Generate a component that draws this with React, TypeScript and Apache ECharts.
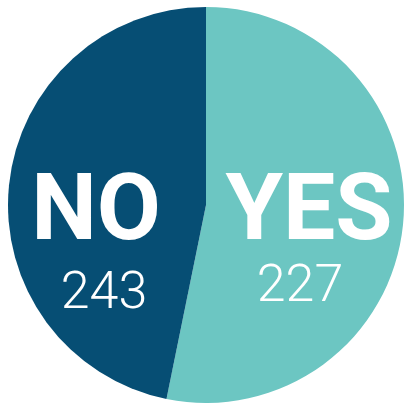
import React, { useEffect, useRef } from "react";
import * as echarts from "echarts";

const categories = ["YES", "NO"];
const counts = [227, 243];
// slice shares (percent of the circle)
const sliceShares = [53.2, 46.8];
const colors = ["#6cc6c2", "#064e74"];

export default function App() {
  const ref = useRef<HTMLDivElement>(null);
  useEffect(() => {
    if (!ref.current) return;
    const chart = echarts.init(ref.current, undefined, { renderer: "svg" });
    const labelPos = [
      { name: [309, 207], num: [300, 283] },
      { name: [96, 207], num: [104, 290] },
    ];
    const graphics: any[] = [];
    categories.forEach((c, i) => {
      graphics.push({
        type: "text",
        x: labelPos[i].name[0],
        y: labelPos[i].name[1],
        style: {
          text: c,
          fill: "#ffffff",
          font: "bold 93px Roboto",
          lineHeight: 70,
          textAlign: "center",
          textVerticalAlign: "middle",
        },
        z: 10,
      });
      graphics.push({
        type: "text",
        x: labelPos[i].num[0],
        y: labelPos[i].num[1],
        style: {
          text: String(counts[i]),
          fill: "#ffffff",
          font: "300 52px Roboto",
          lineHeight: 38,
          textAlign: "center",
          textVerticalAlign: "middle",
        },
        z: 10,
      });
    });
    chart.setOption({
      animation: false,
      series: [
        {
          type: "pie",
          center: [206, 205],
          radius: [0, 198],
          startAngle: 90,
          clockwise: true,
          label: { show: false },
          labelLine: { show: false },
          emphasis: { disabled: true },
          data: categories.map((c, i) => ({
            name: c,
            value: sliceShares[i],
            itemStyle: { color: colors[i], borderWidth: 0 },
          })),
        },
      ],
      graphic: graphics,
    });
    return () => chart.dispose();
  }, []);
  return (
    <div
      ref={ref}
      style={{ position: "fixed", left: 0, top: 0, width: 407, height: 406, background: "#ffffff" }}
    />
  );
}
